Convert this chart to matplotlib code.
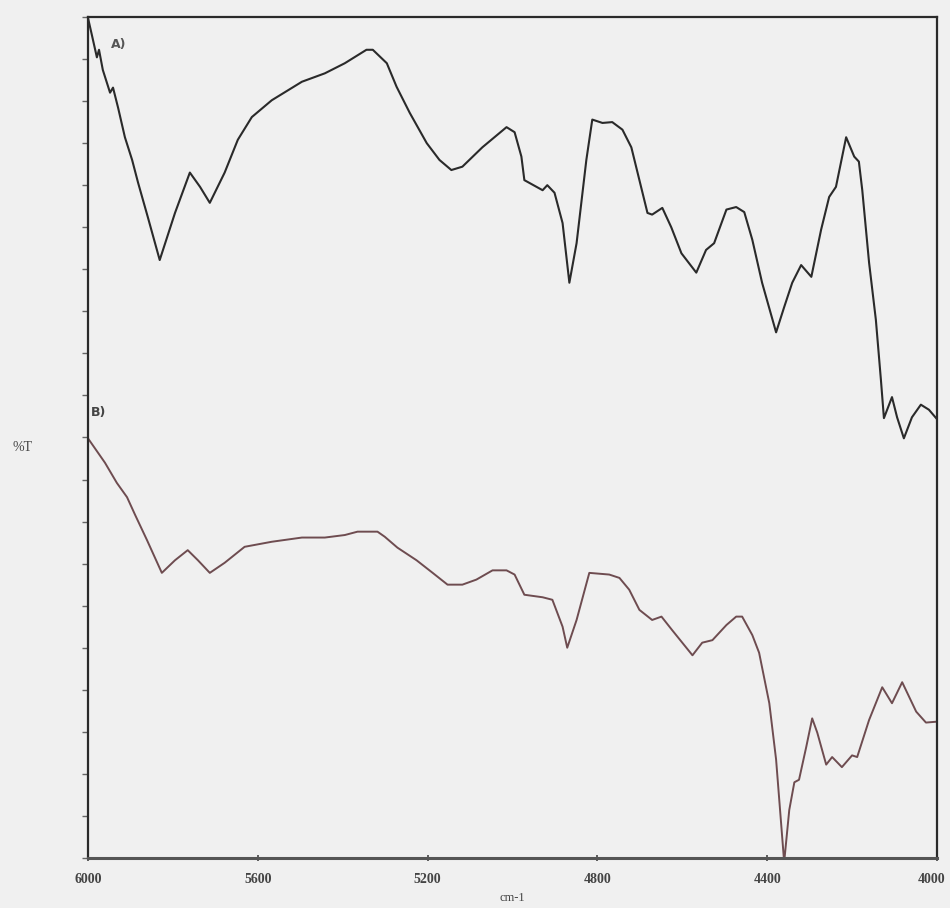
import matplotlib.pyplot as plt
import matplotlib.transforms as mtransforms
import numpy as np

# spectrum A (upper trace): wavenumber (cm-1) and %T
wn_a = [6000, 5991, 5979, 5974, 5965, 5948, 5941, 5929, 5913, 5896, 5882, 5859,
        5831, 5795, 5760, 5736, 5713, 5678, 5647, 5614, 5567, 5496, 5442, 5395,
        5344, 5329, 5296, 5273, 5242, 5202, 5172, 5144, 5118, 5071, 5014, 4995,
        4979, 4972, 4929, 4918, 4901, 4882, 4866, 4849, 4826, 4812, 4788, 4765,
        4741, 4720, 4701, 4682, 4671, 4647, 4626, 4602, 4567, 4544, 4525, 4496,
        4473, 4454, 4435, 4412, 4379, 4360, 4341, 4320, 4296, 4273, 4254, 4238,
        4214, 4195, 4184, 4176, 4160, 4144, 4132, 4125, 4106, 4094, 4078, 4059,
        4038, 4019, 4002]
t_a = [99.9, 97.9, 95.2, 96.1, 93.7, 91.0, 91.6, 89.2, 85.7, 83.0, 80.3, 76.2,
       71.1, 76.7, 81.5, 79.8, 77.9, 81.5, 85.4, 88.1, 90.1, 92.3, 93.3, 94.5,
       96.1, 96.1, 94.5, 91.7, 88.6, 85.0, 83.0, 81.8, 82.2, 84.5, 86.9, 86.3,
       83.4, 80.6, 79.4, 80.0, 79.1, 75.5, 68.4, 73.1, 83.0, 87.8, 87.4, 87.5,
       86.6, 84.5, 80.6, 76.7, 76.5, 77.3, 75.0, 71.9, 69.6, 72.3, 73.1, 77.1,
       77.4, 76.8, 73.5, 68.4, 62.5, 65.5, 68.4, 70.5, 69.1, 74.7, 78.6, 79.8,
       85.7, 83.4, 82.8, 79.4, 70.8, 64.0, 56.8, 52.3, 54.8, 52.4, 49.9, 52.4,
       53.9, 53.3, 52.3]

# spectrum B (lower trace)
wn_b = [6000, 5960, 5932, 5908, 5889, 5861, 5826, 5795, 5765, 5741, 5713, 5678,
        5631, 5567, 5496, 5442, 5395, 5365, 5318, 5301, 5271, 5226, 5188, 5153,
        5118, 5085, 5047, 5014, 4995, 4972, 4929, 4906, 4882, 4871, 4849, 4819,
        4772, 4748, 4725, 4701, 4671, 4649, 4624, 4600, 4576, 4553, 4529, 4496,
        4473, 4459, 4435, 4419, 4395, 4379, 4360, 4348, 4336, 4325, 4308, 4294,
        4282, 4261, 4247, 4224, 4200, 4188, 4160, 4129, 4106, 4082, 4049, 4026,
        4002]
t_b = [49.9, 47.0, 44.6, 42.9, 40.8, 37.8, 33.9, 35.4, 36.6, 35.4, 33.9, 35.1,
       37.0, 37.6, 38.1, 38.1, 38.4, 38.8, 38.8, 38.2, 36.9, 35.4, 33.9, 32.5,
       32.5, 33.1, 34.2, 34.2, 33.7, 31.3, 31.0, 30.7, 27.5, 25.0, 28.3, 33.9,
       33.7, 33.3, 31.9, 29.5, 28.3, 28.7, 27.1, 25.6, 24.1, 25.6, 25.9, 27.7,
       28.7, 28.7, 26.5, 24.4, 18.4, 11.7, -0.5, 5.7, 9.0, 9.3, 13.2, 16.6,
       14.9, 11.1, 12.0, 10.8, 12.2, 12.0, 16.4, 20.3, 18.4, 20.9, 17.4, 16.1,
       16.2]

xticks = [6000, 5600, 5200, 4800, 4400, 4000]

bg = '#f0f0f0'
fig = plt.figure(figsize=(9.5, 9.08), dpi=100, facecolor=bg)
ax = fig.add_axes([0.0926, 0.0551, 0.8937, 0.9262], facecolor=bg)

ax.plot(wn_a, t_a, color='#2a2a2a', lw=1.5, solid_joinstyle='round')
ax.plot(wn_b, t_b, color='#6e4c50', lw=1.4, solid_joinstyle='round')

ax.set_xlim(6000, 4000)
ax.set_ylim(0, 100)

ax.set_xticks(xticks)
ax.set_xticklabels([str(v) for v in xticks], family='Liberation Serif',
                   fontweight='bold', fontsize=10, color='#111111')
ax.set_yticks(np.linspace(0, 100, 21))
ax.set_yticklabels([])
ax.tick_params(axis='x', direction='inout', length=5, width=1.2, pad=8, colors='#444444')
ax.tick_params(axis='y', direction='out', length=4, width=1, colors='#666666')

# pull the last label in a little so it stays inside the figure
last = ax.get_xticklabels()[-1]
last.set_transform(last.get_transform() +
                   mtransforms.ScaledTranslation(-4 / 72, 0, fig.dpi_scale_trans))

for side in ['left', 'right', 'top']:
    ax.spines[side].set_linewidth(1.6)
    ax.spines[side].set_color('#2a2a2a')
ax.spines['bottom'].set_linewidth(2.2)
ax.spines['bottom'].set_color('#555555')

ax.text(0.027, 0.967, 'A)', transform=ax.transAxes, fontsize=9, fontweight='bold',
        color='#555555', ha='left', va='center')
ax.text(0.004, 0.53, 'B)', transform=ax.transAxes, fontsize=9, fontweight='bold',
        color='#444444', ha='left', va='center')

fig.text(0.024, 0.507, '%T', fontsize=10, color='#444444', ha='center', va='center',
         family='Liberation Serif')
fig.text(0.539, 0.004, 'cm-1', fontsize=9, color='#444444', ha='center', va='bottom',
         family='Liberation Serif')

fig.savefig('out.png', dpi=100, facecolor=bg)
